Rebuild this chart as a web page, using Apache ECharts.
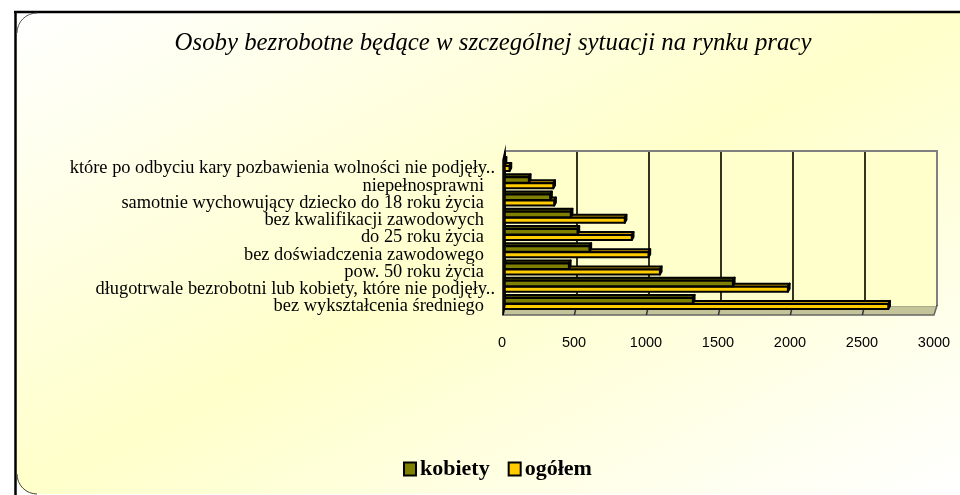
<!DOCTYPE html>
<html><head><meta charset="utf-8">
<style>html,body{margin:0;padding:0;background:#fff}#c{width:960px;height:495px}</style>
<script src="https://cdn.jsdelivr.net/npm/echarts@6/dist/echarts.min.js"></script></head>
<body><div id="c"></div>
<script>
const categories = ['bez wykształcenia średniego','długotrwale bezrobotni lub kobiety, które nie podjęły..','pow. 50 roku życia','bez doświadczenia zawodowego','do 25 roku życia','bez kwalifikacji zawodowych','samotnie wychowujący dziecko do 18 roku życia','niepełnosprawni','które po odbyciu kary pozbawienia wolności nie podjęły..'];
const kobiety = [1315,1593,454,597,514,467,324,176,8];
const ogolem = [2672,1975,1086,1007,891,842,352,346,42];
const xTicks = [0,500,1000,1500,2000,2500,3000];
const titleText = 'Osoby bezrobotne będące w szczególnej sytuacji na rynku pracy';

function bar3d(front, topCol, endCol, y0, y1){
  const dx=1.7, dy=3;
  return function(params, api){
    const p0 = api.coord([0, api.value(1)]);
    const p1 = api.coord([api.value(0), api.value(1)]);
    const xa=p0[0]-1, xb=p1[0]-1.5, ya=p0[1]+y0, yb=p0[1]+y1;
    const stroke={stroke:'#000',lineWidth:2,lineJoin:'round'};
    return {type:'group',children:[
      {type:'polygon',shape:{points:[[xa,ya],[xa+dx,ya-dy],[xb+dx,ya-dy],[xb,ya]]},style:Object.assign({fill:topCol},stroke)},
      {type:'polygon',shape:{points:[[xb,ya],[xb+dx,ya-dy],[xb+dx,yb-dy],[xb,yb]]},style:Object.assign({fill:endCol},stroke)},
      {type:'rect',shape:{x:xa,y:ya,width:Math.max(xb-xa,0),height:yb-ya},style:Object.assign({fill:front},stroke)}
    ]};
  };
}
function floorTick(params, api){
  const p = api.coord([api.value(0), 0]);
  const bottom = params.coordSys.y + params.coordSys.height;
  return {type:'line',shape:{x1:p[0]-1.4,y1:bottom+3.5,x2:p[0]-2.6,y2:bottom+9},style:{stroke:'#333',lineWidth:1.5}};
}
const chart = echarts.init(document.getElementById('c'),null,{renderer:'canvas'});
const serif='"Liberation Serif","Times New Roman",serif';
const midYellow='#FFFFCA';
const catFont={fontFamily:serif,fontSize:18.4,color:'#000',align:'right',verticalAlign:'top'};
chart.setOption({
  animation:false,
  title:{text:titleText,left:488,top:26,textAlign:'center',textStyle:{fontFamily:serif,fontStyle:'italic',fontWeight:'normal',fontSize:24.8,color:'#000'}},
  legend:{data:[{name:'kobiety',itemStyle:{color:'#808000',borderColor:'#000',borderWidth:2}},{name:'ogółem',itemStyle:{color:'#FFCC00',borderColor:'#000',borderWidth:2}}],
    left:398,top:453,itemWidth:12,itemHeight:13,itemGap:18,icon:'rect',
    textStyle:{fontFamily:serif,fontWeight:'bold',fontSize:22,color:'#000',padding:[0,0,0,-1]}},
  grid:{left:505,top:151,width:432,height:155,show:true,backgroundColor:'#FFFFCC',borderWidth:0},
  xAxis:{type:'value',min:0,max:3000,interval:500,
    axisLine:{show:false},axisTick:{show:false},
    splitLine:{show:true,lineStyle:{color:'#333322',width:2}},
    axisLabel:{margin:29,fontFamily:'"Liberation Sans",Arial,sans-serif',fontSize:14.5,color:'#000',padding:[0,6,0,0],
      formatter:v=>xTicks.includes(v)?String(v):''}},
  yAxis:{type:'category',
    data:categories.map(c=>c.endsWith('..')?{value:c,textStyle:Object.assign({padding:[0,-11,0,0]},catFont)}:c),
    axisLine:{show:false},axisTick:{show:false},splitLine:{show:false},
    axisLabel:Object.assign({margin:21,interval:0},catFont)},
  graphic:{elements:[
    {type:'rect',z:-10,shape:{x:16,y:12,width:960,height:482,r:[20,0,0,20]},
      style:{fill:new echarts.graphic.LinearGradient(16,12,405,776,[{offset:0,color:'#FFFFFF'},{offset:0.5,color:midYellow},{offset:1,color:'#FFFFFF'}],true)}},
    {type:'line',z:-9,shape:{x1:15.5,y1:12,x2:15.5,y2:495},style:{stroke:'#000',lineWidth:2.5}},
    {type:'line',z:-9,shape:{x1:14,y1:12,x2:960,y2:12},style:{stroke:'#000',lineWidth:2.5}},
    {type:'arc',z:-8,shape:{cx:37,cy:33,r:20,startAngle:Math.PI,endAngle:Math.PI*1.5},style:{fill:null,stroke:'#555',lineWidth:1}},
    {type:'arc',z:-8,shape:{cx:37,cy:474,r:20,startAngle:Math.PI*0.5,endAngle:Math.PI},style:{fill:null,stroke:'#444',lineWidth:1}},
    {type:'polygon',z:-1,shape:{points:[[505,305.5],[937,305.5],[934,315],[503,315]]},style:{fill:'#C4C49A',stroke:'#666',lineWidth:1.5}},
    {type:'polyline',z:1,shape:{points:[[505,151],[937,151],[937,305.5]]},style:{fill:null,stroke:'#808080',lineWidth:2}},
    {type:'polygon',z:20,shape:{points:[[505,151],[505,305],[503,315],[503,160]]},style:{fill:'#222',stroke:'#000',lineWidth:1.5}}
  ]},
  series:[
    {name:'kobiety',type:'custom',coordinateSystem:'cartesian2d',z:6,encode:{x:0,y:1},itemStyle:{color:'#808000'},
     data:kobiety.map((v,i)=>[v,i]),renderItem:bar3d('#808000','#4A4A00','#3A3A00',0.5,6)},
    {name:'ogółem',type:'custom',coordinateSystem:'cartesian2d',z:5,encode:{x:0,y:1},itemStyle:{color:'#FFCC00'},
     data:ogolem.map((v,i)=>[v,i]),renderItem:bar3d('#FFCC00','#C49A00','#8A6C00',6.5,11.5)},
    {name:'ticks',type:'custom',coordinateSystem:'cartesian2d',z:3,encode:{x:0,y:1},silent:true,
     data:xTicks.slice(1,-1).map(v=>[v,0]),renderItem:floorTick}
  ]
});
</script></body></html>
